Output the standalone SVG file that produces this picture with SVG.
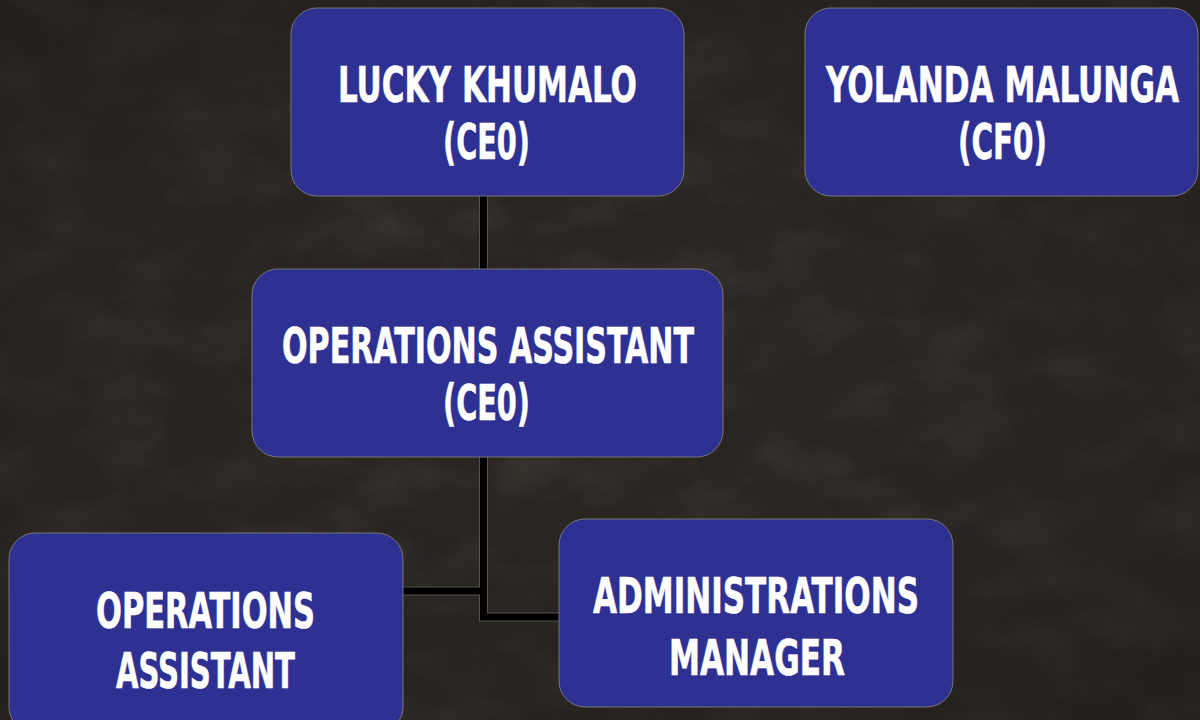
<svg xmlns="http://www.w3.org/2000/svg" width="1200" height="720" viewBox="0 0 1200 720">
  <defs>
    <style>
      .node rect { fill: #2e3192; stroke: #77757a; stroke-width: 1; }
      .node text { fill: #ffffff; stroke: #ffffff; stroke-width: 0.6; font-family: "DejaVu Sans Condensed", "DejaVu Sans", "Liberation Sans", sans-serif; font-weight: bold; font-size: 49px; text-anchor: middle; }
      .edge-bg { fill: none; stroke: #55524f; stroke-width: 9; }
      .edge { fill: none; stroke: #000000; stroke-width: 7; }
    </style>
    <filter id="grain" x="0" y="0" width="100%" height="100%">
      <feTurbulence type="fractalNoise" baseFrequency="0.012 0.02" numOctaves="4" seed="7" result="n"/>
      <feColorMatrix in="n" type="matrix" values="0 0 0 0 0.22  0 0 0 0 0.19  0 0 0 0 0.16  0 0 0 1.1 -0.45" />
    </filter>
    <radialGradient id="vig" cx="0.5" cy="0.5" r="0.75">
      <stop offset="0" stop-color="#2f2a26" stop-opacity="0"/>
      <stop offset="1" stop-color="#1c1916" stop-opacity="0.6"/>
    </radialGradient>
  </defs>

  <rect width="1200" height="720" fill="#2a2521"/>
  <rect width="1200" height="720" filter="url(#grain)" opacity="0.35"/>
  <rect width="1200" height="720" fill="url(#vig)"/>

  <g id="connectors">
    <path class="edge-bg" d="M483.5 196 V270"/>
    <path class="edge-bg" d="M483.5 457 V617 H559"/>
    <path class="edge-bg" d="M403 591 H483.5"/>
    <path class="edge" d="M483.5 196 V270"/>
    <path class="edge" d="M483.5 457 V617 H559"/>
    <path class="edge" d="M403 591 H483.5"/>
  </g>

  <g id="node-ceo" class="node">
    <rect x="291" y="8" width="393" height="188" rx="26"/>
    <text x="487.5" y="102" textLength="299" lengthAdjust="spacingAndGlyphs">LUCKY KHUMALO</text>
    <text x="486.5" y="159" textLength="87" lengthAdjust="spacingAndGlyphs">(CE0)</text>
  </g>

  <g id="node-cfo" class="node">
    <rect x="805" y="8" width="393" height="188" rx="26"/>
    <text x="1002.5" y="102" textLength="353" lengthAdjust="spacingAndGlyphs">YOLANDA MALUNGA</text>
    <text x="1002.5" y="159" textLength="89" lengthAdjust="spacingAndGlyphs">(CF0)</text>
  </g>

  <g id="node-ops-ceo" class="node">
    <rect x="252" y="269" width="471" height="188" rx="26"/>
    <text x="488" y="363" textLength="412" lengthAdjust="spacingAndGlyphs">OPERATIONS ASSISTANT</text>
    <text x="486.5" y="420" textLength="87" lengthAdjust="spacingAndGlyphs">(CE0)</text>
  </g>

  <g id="node-ops-assistant" class="node">
    <rect x="9" y="533" width="394" height="200" rx="26"/>
    <text x="205.5" y="628" textLength="219" lengthAdjust="spacingAndGlyphs">OPERATIONS</text>
    <text x="205.5" y="688" textLength="179" lengthAdjust="spacingAndGlyphs">ASSISTANT</text>
  </g>

  <g id="node-admin-manager" class="node">
    <rect x="559" y="519" width="394" height="188" rx="26"/>
    <text x="756" y="613" textLength="326" lengthAdjust="spacingAndGlyphs">ADMINISTRATIONS</text>
    <text x="757" y="675" textLength="176" lengthAdjust="spacingAndGlyphs">MANAGER</text>
  </g>
</svg>
